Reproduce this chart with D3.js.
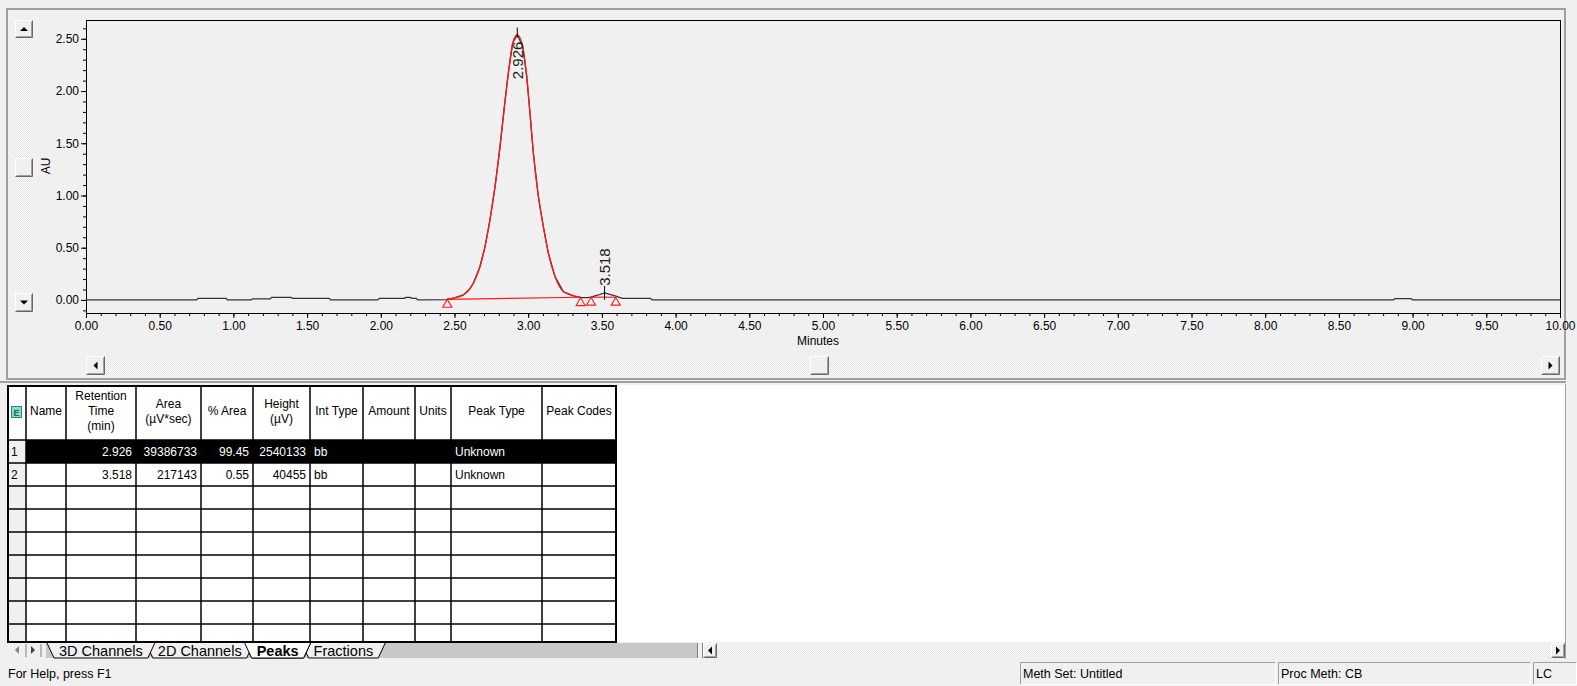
<!DOCTYPE html>
<html>
<head>
<meta charset="utf-8">
<script src="https://cdn.jsdelivr.net/npm/d3@7"></script>
<style>
  body { margin: 0; background: #f0f0f0; overflow: hidden; }
  svg { display: block; font-family: "Liberation Sans", Arial, sans-serif; }
</style>
</head>
<body>
<svg id="chart" width="1577" height="686"></svg>
<script>
// ---- values ----
var xMajor = [0, 0.5, 1, 1.5, 2, 2.5, 3, 3.5, 4, 4.5, 5, 5.5, 6, 6.5, 7, 7.5, 8, 8.5, 9, 9.5, 10];
var yMajor = [0, 0.5, 1, 1.5, 2, 2.5];

// detector trace before the first peak [min, AU]
var leadTrace = [
  [0, 0], [0.75, 0], [0.76, 0.015], [0.95, 0.015], [0.96, 0], [1.12, 0], [1.13, 0.01],
  [1.25, 0.01], [1.26, 0.025], [1.39, 0.025], [1.40, 0.015], [1.65, 0.015], [1.66, 0],
  [1.98, 0], [1.99, 0.015], [2.16, 0.015], [2.17, 0.024], [2.20, 0.024], [2.21, 0.015],
  [2.24, 0.015], [2.25, 0], [2.451, 0.004]
];
// integrated main peak (red)
var peak1Curve = [
  [2.451, 0.006], [2.50, 0.02], [2.56, 0.048], [2.60, 0.10], [2.628, 0.16], [2.673, 0.32],
  [2.707, 0.51], [2.741, 0.77], [2.775, 1.085], [2.809, 1.47], [2.836, 1.82], [2.865, 2.17],
  [2.895, 2.46], [2.926, 2.54], [2.962, 2.43], [2.990, 2.14], [3.012, 1.79], [3.035, 1.405],
  [3.069, 0.99], [3.103, 0.70], [3.137, 0.447], [3.182, 0.223], [3.238, 0.08], [3.306, 0.04],
  [3.356, 0.024]
];
// trace after the main peak, with the small peak at 3.518
var tailTrace = [
  [3.356, 0.022], [3.40, 0.022], [3.426, 0.026], [3.47, 0.045], [3.518, 0.068], [3.56, 0.05],
  [3.60, 0.035], [3.634, 0.018], [3.64, 0.015], [3.83, 0.015], [3.84, 0], [8.87, 0],
  [8.88, 0.012], [8.99, 0.012], [9.0, 0], [10, 0]
];
var peakBaselines = [
  [[2.451, 0.006], [3.356, 0.026]],
  [[3.426, 0.026], [3.594, 0.026]]
];
var peakMarks = [[2.451, 0.006], [3.356, 0.022], [3.426, 0.026], [3.594, 0.026]];
var peakApexAU = [2.54, 0.068];

// peak table
var colEdges = [8, 26, 66, 136, 201, 253, 310, 363, 415, 451, 542, 616];
var colHeaders = ["", "Name", "Retention\nTime\n(min)", "Area\n(\u00b5V*sec)", "% Area", "Height\n(\u00b5V)",
  "Int Type", "Amount", "Units", "Peak Type", "Peak Codes"];
var colAlign = ["start", "start", "end", "end", "end", "end", "start", "end", "start", "start", "start"];
var retTimes = [2.926, 3.518];
var areas = [39386733, 217143];
var pctAreas = [99.45, 0.55];
var heights = [2540133, 40455];
var intTypes = ["bb", "bb"];
var peakTypes = ["Unknown", "Unknown"];

var tabNames = ["3D Channels", "2D Channels", "Peaks", "Fractions"];
var activeTab = "Peaks";
var statusPanels = [["Meth Set: Untitled", 1020, 1276], ["Proc Meth: CB", 1278, 1531], ["LC", 1533, 1577]];

var svg = d3.select("#chart");
var defs = svg.append("defs");
var pat = defs.append("pattern").attr("id", "dither").attr("width", 2).attr("height", 2)
  .attr("patternUnits", "userSpaceOnUse");
pat.append("rect").attr("width", 2).attr("height", 2).attr("fill", "#fbfbfb");
pat.append("rect").attr("width", 1).attr("height", 1).attr("fill", "#e6e6e6");
pat.append("rect").attr("x", 1).attr("y", 1).attr("width", 1).attr("height", 1).attr("fill", "#e6e6e6");
defs.append("clipPath").attr("id", "plotClip").append("rect")
  .attr("x", 86).attr("y", 20).attr("width", 1474).attr("height", 293);

// 3D push button with an arrow glyph
function button(g, bx, by, w, h, dir, col) {
  var b = g.append("g").attr("transform", "translate(" + bx + "," + by + ")");
  b.append("rect").attr("width", w).attr("height", h).attr("fill", "#f0f0f0");
  b.append("path").attr("d", "M0.5," + (h - 0.5) + "V0.5H" + (w - 0.5)).attr("stroke", "#fff").attr("fill", "none");
  b.append("path").attr("d", "M0.5," + (h - 0.5) + "H" + (w - 0.5) + "V0.5").attr("stroke", "#696969").attr("fill", "none");
  b.append("path").attr("d", "M1.5," + (h - 1.5) + "H" + (w - 1.5) + "V1.5").attr("stroke", "#a0a0a0").attr("fill", "none");
  var cx = w / 2, cy = h / 2, d = null;
  if (dir === "up") d = "M" + (cx - 4) + "," + (cy + 2) + "L" + (cx + 4) + "," + (cy + 2) + "L" + cx + "," + (cy - 2) + "Z";
  if (dir === "down") d = "M" + (cx - 4) + "," + (cy - 2) + "L" + (cx + 4) + "," + (cy - 2) + "L" + cx + "," + (cy + 2) + "Z";
  if (dir === "left") d = "M" + (cx + 2) + "," + (cy - 4) + "L" + (cx + 2) + "," + (cy + 4) + "L" + (cx - 2) + "," + cy + "Z";
  if (dir === "right") d = "M" + (cx - 2) + "," + (cy - 4) + "L" + (cx - 2) + "," + (cy + 4) + "L" + (cx + 2) + "," + cy + "Z";
  if (d) b.append("path").attr("d", d).attr("fill", col || "#000");
}

// ---- chart pane ----
svg.append("rect").attr("width", 1577).attr("height", 686).attr("fill", "#f0f0f0");
svg.append("rect").attr("x", 7).attr("y", 9).attr("width", 1558).attr("height", 370)
  .attr("fill", "#f0f0f0").attr("stroke", "#a0a0a0").attr("stroke-width", 2);

// vertical scroll bar
svg.append("rect").attr("x", 15).attr("y", 20).attr("width", 18).attr("height", 292).attr("fill", "url(#dither)");
button(svg, 15, 20, 18, 18, "up");
button(svg, 15, 158, 18, 19, null);
button(svg, 15, 293, 18, 19, "down");

// horizontal scroll bar
svg.append("rect").attr("x", 86).attr("y", 356).attr("width", 1474).attr("height", 19).attr("fill", "url(#dither)");
button(svg, 86, 356, 19, 19, "left");
button(svg, 810, 356, 19, 19, null);
button(svg, 1541, 356, 19, 19, "right");

var x = d3.scaleLinear().domain([0, 10]).range([86, 1560]);
var y = d3.scaleLinear().domain([-0.125, 2.68]).range([313, 20]);

// axes
var gx = svg.append("g").attr("transform", "translate(0,313)")
  .call(d3.axisBottom(x).tickValues(d3.range(0, 10.05, 0.1)).tickSize(3).tickFormat(""));
gx.select(".domain").remove();
var gx2 = svg.append("g").attr("transform", "translate(0,313)")
  .call(d3.axisBottom(x).tickValues(xMajor).tickSize(5).tickPadding(3).tickFormat(d3.format(".2f")));
gx2.select(".domain").remove();
gx2.attr("font-size", 12).attr("font-family", null);

var gy = svg.append("g").attr("transform", "translate(86,0)")
  .call(d3.axisLeft(y).tickValues(d3.range(-0.1, 2.65, 0.1)).tickSize(3).tickFormat(""));
gy.select(".domain").remove();
var gy2 = svg.append("g").attr("transform", "translate(86,0)")
  .call(d3.axisLeft(y).tickValues(yMajor).tickSize(5).tickPadding(2).tickFormat(d3.format(".2f")));
gy2.select(".domain").remove();
gy2.attr("font-size", 12).attr("font-family", null);

svg.append("rect").attr("x", 86.5).attr("y", 20.5).attr("width", 1474).attr("height", 293)
  .attr("fill", "none").attr("stroke", "#000");

svg.append("text").attr("transform", "translate(50,166) rotate(-90)").attr("text-anchor", "middle")
  .attr("font-size", 12).text("AU");
svg.append("text").attr("x", 818).attr("y", 345).attr("text-anchor", "middle")
  .attr("font-size", 12).text("Minutes");

// traces
var line = d3.line().x(function (d) { return x(d[0]); }).y(function (d) { return y(d[1]); });
var plot = svg.append("g").attr("clip-path", "url(#plotClip)");
plot.append("path").datum(leadTrace.concat(peak1Curve, tailTrace)).attr("d", line)
  .attr("fill", "none").attr("stroke", "#333").attr("stroke-width", 1.3);
plot.append("path").datum(peak1Curve).attr("d", line.curve(d3.curveMonotoneX))
  .attr("fill", "none").attr("stroke", "#ff1a1a").attr("stroke-width", 1.3);
line.curve(d3.curveLinear);
plot.selectAll(".bl").data(peakBaselines).enter().append("path").attr("d", line)
  .attr("fill", "none").attr("stroke", "#ff1a1a").attr("stroke-width", 1.2);

var tri = d3.symbol().type(d3.symbolTriangle).size(36);
svg.selectAll(".mark").data(peakMarks).enter().append("path")
  .attr("d", tri)
  .attr("transform", function (d) { return "translate(" + x(d[0]) + "," + (y(d[1]) + 5.3) + ")"; })
  .attr("fill", "none").attr("stroke", "#ff1a1a").attr("stroke-width", 1.1);

// apex markers and retention time labels
retTimes.forEach(function (rt, i) {
  var px = x(rt), py = y(peakApexAU[i]);
  var below = py - 48 < 20;
  svg.append("line").attr("x1", px).attr("x2", px)
    .attr("y1", py - 7).attr("y2", below ? py + 3 : py + 7)
    .attr("stroke", "#000").attr("stroke-width", 1);
  svg.append("text")
    .attr("transform", "translate(" + px + "," + (below ? py + 7 : py - 7) + ") rotate(-90)")
    .attr("text-anchor", below ? "end" : "start").attr("dy", "0.35em")
    .attr("font-size", 15).attr("fill", "#1a1a1a").text(d3.format(".3f")(rt));
});

// ---- lower pane: peak table ----
svg.append("line").attr("x1", 0).attr("x2", 1566).attr("y1", 382).attr("y2", 382)
  .attr("stroke", "#a0a0a0").attr("stroke-width", 2);
svg.append("rect").attr("x", 8).attr("y", 385).attr("width", 1557).attr("height", 257).attr("fill", "#fff");

var rowH = 23, headTop = 386, headBot = 440, tableBot = 642;
var rows = retTimes.map(function (rt, i) {
  return [String(i + 1), "", d3.format(".3f")(rt), String(areas[i]), d3.format(".2f")(pctAreas[i]),
    String(heights[i]), intTypes[i], "", "", peakTypes[i], ""];
});
while (rows.length < 9) rows.push(["", "", "", "", "", "", "", "", "", "", ""]);

var table = svg.append("g");
rows.forEach(function (r, ri) {
  var ry = headBot + ri * rowH;
  var h = Math.min(rowH, tableBot - ry);
  table.append("rect").attr("x", colEdges[0]).attr("y", ry).attr("width", colEdges[1] - colEdges[0])
    .attr("height", h).attr("fill", "#f0f0f0");
  if (ri === 0) {
    table.append("rect").attr("x", colEdges[1]).attr("y", ry).attr("width", colEdges[11] - colEdges[1])
      .attr("height", h).attr("fill", "#000");
  }
  r.forEach(function (v, ci) {
    if (!v) return;
    var tx = colAlign[ci] === "end" ? colEdges[ci + 1] - 4 : colEdges[ci] + 4;
    if (ci === 0) tx = colEdges[0] + 3;
    table.append("text").attr("x", tx).attr("y", ry + 16).attr("text-anchor", colAlign[ci])
      .attr("font-size", 12).attr("fill", (ri === 0 && ci > 0) ? "#fff" : "#000").text(v);
  });
});

colHeaders.forEach(function (hd, ci) {
  var lines = hd.split("\n");
  var cx = (colEdges[ci] + colEdges[ci + 1]) / 2;
  lines.forEach(function (ln, li) {
    table.append("text").attr("x", cx).attr("y", 415 + (li - (lines.length - 1) / 2) * 15)
      .attr("text-anchor", "middle").attr("font-size", 12).text(ln);
  });
});
// header icon
table.append("rect").attr("x", 11.5).attr("y", 406.5).attr("width", 10).attr("height", 11)
  .attr("fill", "#8fd8c8").attr("stroke", "#2a8a7a");
table.append("text").attr("x", 16.5).attr("y", 416).attr("text-anchor", "middle")
  .attr("font-size", 9).attr("font-weight", "bold").attr("fill", "#16665a").text("E");

// grid lines
colEdges.forEach(function (cx) {
  table.append("line").attr("x1", cx).attr("x2", cx).attr("y1", headTop).attr("y2", tableBot)
    .attr("stroke", "#000").attr("stroke-width", 1.5);
});
[headTop, headBot].concat(rows.map(function (r, ri) { return headBot + (ri + 1) * rowH; }))
  .filter(function (v) { return v < tableBot; })
  .forEach(function (ly) {
    table.append("line").attr("x1", colEdges[0]).attr("x2", colEdges[11]).attr("y1", ly).attr("y2", ly)
      .attr("stroke", "#000").attr("stroke-width", 1.5);
  });
table.append("rect").attr("x", colEdges[0]).attr("y", headTop).attr("width", colEdges[11] - colEdges[0])
  .attr("height", tableBot - headTop).attr("fill", "none").attr("stroke", "#000").attr("stroke-width", 2);

// ---- sheet tabs ----
svg.append("rect").attr("x", 8).attr("y", 643).attr("width", 689).attr("height", 15).attr("fill", "#c8c8c8");
svg.append("rect").attr("x", 8).attr("y", 643).attr("width", 38).attr("height", 15).attr("fill", "#f0f0f0");
[[17, "left", "#808080"], [33, "right", "#404040"]].forEach(function (a) {
  var ax = a[0], d = a[1] === "left" ? "M" + (ax + 2) + ",646L" + (ax + 2) + ",654L" + (ax - 2) + ",650Z"
    : "M" + (ax - 2) + ",646L" + (ax - 2) + ",654L" + (ax + 2) + ",650Z";
  svg.append("path").attr("d", d).attr("fill", a[2]);
});
[26, 41].forEach(function (sx) {
  svg.append("line").attr("x1", sx).attr("x2", sx).attr("y1", 644).attr("y2", 657).attr("stroke", "#808080");
});

var tabG = svg.append("g");
var measure = svg.append("text").attr("font-size", 14.5).attr("visibility", "hidden");
var tabs = [], tx0 = 47;
tabNames.forEach(function (name) {
  measure.attr("font-weight", name === activeTab ? "bold" : null).text(name);
  var len = measure.node().getComputedTextLength();
  var xe = tx0 + 12 + len + 12;
  tabs.push({ name: name, xs: tx0, xe: xe });
  tx0 = xe - 9;
});
measure.remove();
tabs.slice().reverse().concat(tabs.filter(function (t) { return t.name === activeTab; }))
  .forEach(function (t) {
    var act = t.name === activeTab;
    tabG.append("path")
      .attr("d", "M" + t.xs + ",643L" + (t.xs + 7) + ",658L" + (t.xe - 7) + ",658L" + t.xe + ",643")
      .attr("fill", act ? "#fff" : "#f0f0f0").attr("stroke", "#000").attr("stroke-width", 1);
    tabG.append("text").attr("x", t.xs + 12).attr("y", 656).attr("font-size", 14.5)
      .attr("font-weight", act ? "bold" : null).text(t.name);
  });

// splitter and lower horizontal scroll bar
svg.append("rect").attr("x", 697).attr("y", 643).attr("width", 6).attr("height", 15).attr("fill", "#f0f0f0");
svg.append("line").attr("x1", 697.5).attr("x2", 697.5).attr("y1", 643).attr("y2", 658).attr("stroke", "#808080");
svg.append("line").attr("x1", 702.5).attr("x2", 702.5).attr("y1", 643).attr("y2", 658).attr("stroke", "#808080");
svg.append("rect").attr("x", 703).attr("y", 643).attr("width", 862).attr("height", 15).attr("fill", "url(#dither)");
button(svg, 703, 643, 14, 15, "left");
button(svg, 1551, 643, 14, 15, "right");
svg.append("line").attr("x1", 1565.5).attr("x2", 1565.5).attr("y1", 384).attr("y2", 659).attr("stroke", "#a0a0a0");

// ---- status bar ----
svg.append("text").attr("x", 8).attr("y", 678).attr("font-size", 12.5).text("For Help, press F1");
statusPanels.forEach(function (p) {
  svg.append("path").attr("d", "M" + (p[1] + 0.5) + ",684.5V662.5H" + (p[2] - 0.5))
    .attr("stroke", "#a0a0a0").attr("fill", "none");
  svg.append("path").attr("d", "M" + (p[1] + 0.5) + ",684.5H" + (p[2] - 0.5) + "V662.5")
    .attr("stroke", "#fff").attr("fill", "none");
  svg.append("text").attr("x", p[1] + 3).attr("y", 678).attr("font-size", 12.5).text(p[0]);
});
</script>
</body>
</html>
